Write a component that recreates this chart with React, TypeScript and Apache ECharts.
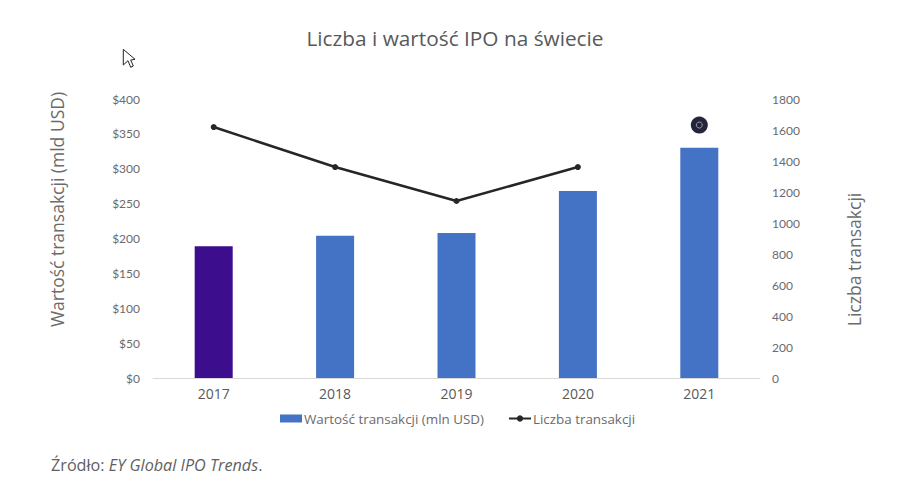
import React, { useEffect, useRef } from "react";
import * as echarts from "echarts";

const years = ["2017", "2018", "2019", "2020", "2021"];
const dealValues = [189, 204, 208, 268, 330];
const dealCounts = [1619, 1361, 1142, 1361, null];
const dealCountOutlier = [null, null, null, null, 1632];
const barColors = ["#3C0D8C", "#4472C4", "#4472C4", "#4472C4", "#4472C4"];
const titleText = "Liczba i wartość IPO na świecie";
const leftAxisName = "Wartość transakcji (mld USD)";
const rightAxisName = "Liczba transakcji";
const barName = "Wartość transakcji (mln USD)";
const lineName = "Liczba transakcji";

const cursorPoints = [
  [123.3, 49.3], [123.3, 65], [128, 60.7], [130.7, 67.3],
  [133.3, 66], [130.7, 60], [135, 59.3],
];

export default function App() {
  const ref = useRef<HTMLDivElement>(null);
  useEffect(() => {
    document.body.style.margin = "0";
    const chart = echarts.init(ref.current!, null, { renderer: "svg" });
    chart.setOption({
      animation: false,
      backgroundColor: "#ffffff",
      textStyle: { fontFamily: "Lato" },
      title: {
        text: titleText,
        left: 450,
        top: 22,
        textAlign: "center",
        textStyle: { fontFamily: "Open Sans", fontSize: 20.8, fontWeight: "normal", color: "#595959" },
      },
      grid: { left: 153, right: 145, top: 99, bottom: 99 },
      legend: {
        data: [{ name: barName, icon: "rect" }, { name: lineName }],
        left: 275,
        top: 407,
        itemGap: 24,
        itemWidth: 22,
        itemHeight: 8,
        textStyle: { fontFamily: "Open Sans", fontSize: 13.4, color: "#6b6b6b", padding: [0, 0, 0, -3] },
      },
      xAxis: {
        type: "category",
        data: years,
        axisTick: { show: false },
        axisLine: { lineStyle: { color: "#d9d9d9" } },
        axisLabel: { color: "#595959", fontFamily: "Open Sans", fontSize: 14, margin: 8 },
      },
      yAxis: [
        {
          type: "value",
          min: 0,
          max: 400,
          interval: 50,
          splitLine: { show: false },
          axisLine: { show: false },
          axisTick: { show: false },
          axisLabel: { color: "#6b6b6b", fontSize: 12, margin: 13, padding: [0, 0, 4, 0], formatter: (v: number) => "$" + v },
          name: leftAxisName,
          nameLocation: "middle",
          nameGap: 87,
          nameRotate: 90,
          nameTextStyle: { fontFamily: "Open Sans", fontSize: 17.5, color: "#6b6b6b", padding: [0, 0, 0, 58] },
        },
        {
          type: "value",
          min: 0,
          max: 1800,
          interval: 200,
          splitLine: { show: false },
          axisLine: { show: false },
          axisTick: { show: false },
          axisLabel: { color: "#6b6b6b", fontSize: 12, margin: 12, padding: [0, 0, 4, 0], formatter: (v: number) => String(v) },
          name: rightAxisName,
          nameLocation: "middle",
          nameGap: 85,
          nameRotate: 90,
          nameTextStyle: { fontFamily: "Open Sans", fontSize: 17.5, color: "#6b6b6b", padding: [0, 42, 0, 0] },
        },
      ],
      series: [
        {
          name: barName,
          type: "bar",
          barWidth: 38,
          itemStyle: { color: "#4472C4" },
          data: dealValues.map((v, i) => ({ value: v, itemStyle: { color: barColors[i] } })),
        },
        {
          name: lineName,
          type: "line",
          yAxisIndex: 1,
          data: dealCounts,
          symbol: "circle",
          symbolSize: 6,
          showAllSymbol: true,
          lineStyle: { color: "#262626", width: 2.5 },
          itemStyle: { color: "#262626" },
        },
        {
          name: "outlier",
          type: "scatter",
          yAxisIndex: 1,
          data: dealCountOutlier,
          symbol: "circle",
          symbolSize: 17,
          itemStyle: { color: "#24243A", opacity: 1 },
        },
        {
          name: "outlier-core",
          type: "scatter",
          yAxisIndex: 1,
          data: dealCountOutlier,
          symbol: "circle",
          symbolSize: 6,
          itemStyle: { color: "#24243A", borderColor: "#9C9CB0", borderWidth: 1, opacity: 1 },
        },
      ],
      graphic: [
        {
          type: "text",
          left: 51,
          top: 457,
          style: {
            rich: {
              a: { fontFamily: "Open Sans", fontSize: 16.2, fill: "#5f5f5f" },
              b: { fontFamily: "Open Sans", fontSize: 16.2, fontStyle: "italic", fill: "#5f5f5f" },
            },
            text: "{a|Źródło: }{b|EY Global IPO Trends}{a|.}",
          },
        },
        {
          type: "polygon",
          shape: { points: cursorPoints },
          style: { fill: "#ffffff", stroke: "#222222", lineWidth: 1 },
        },
      ],
    });
    return () => chart.dispose();
  }, []);
  return <div ref={ref} style={{ width: 905, height: 477 }} />;
}
